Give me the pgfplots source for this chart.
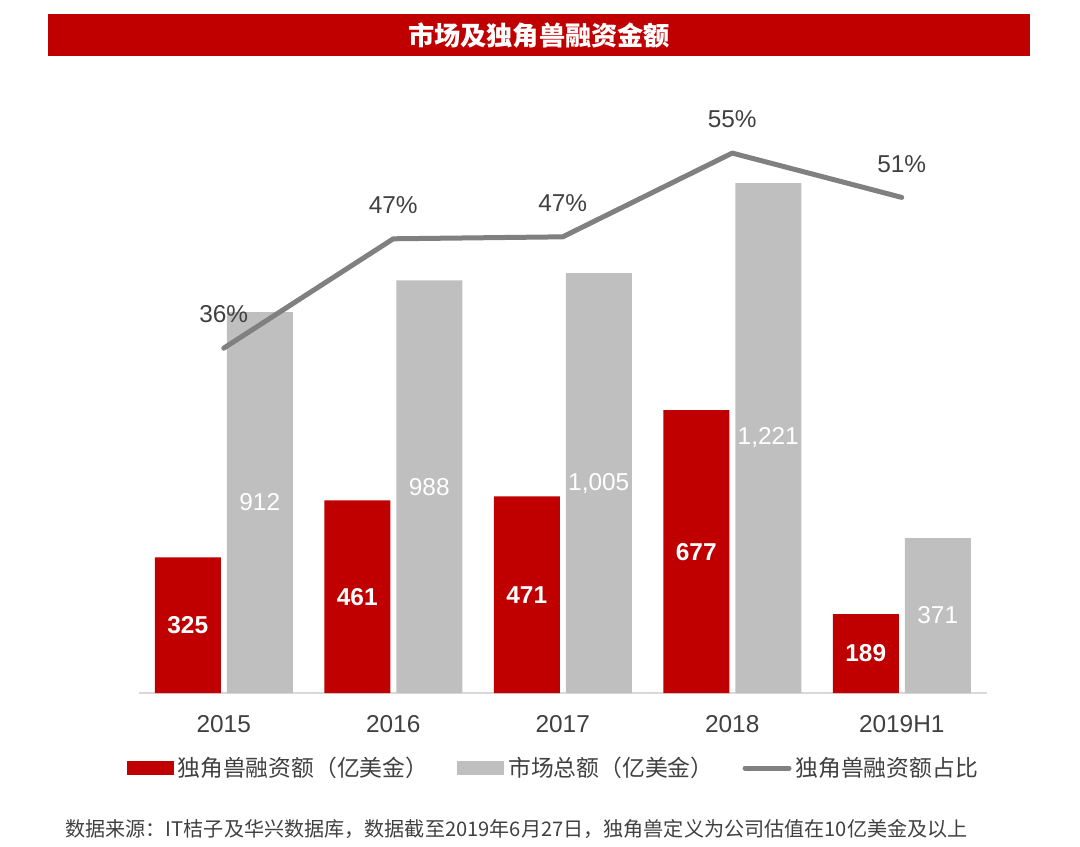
\documentclass[border=0pt]{standalone}
\usepackage{pgfplots}
\pgfplotsset{compat=1.18}
\usepackage{fontspec}
\setmainfont{Liberation Sans}
\newfontfamily\cjk{Noto Sans CJK SC}
\definecolor{cred}{HTML}{C00000}
\definecolor{cgray}{HTML}{BFBFBF}
\definecolor{cline}{HTML}{808080}
\definecolor{ctext}{HTML}{404040}
\definecolor{caxis}{HTML}{D9D9D9}

\begin{document}
\begin{tikzpicture}
\path[use as bounding box] (0,0) rectangle (540pt,423pt);
\fill[cred] (24pt,395pt) rectangle (515pt,416pt);
\node[text=white,font=\cjk\bfseries\fontsize{13.1}{15}\selectfont] at (269.5pt,405.5pt) {市场及独角兽融资金额};
\node[anchor=west,text=ctext,font=\cjk\fontsize{10.05}{11}\selectfont,inner sep=0pt] at (32.5pt,8.5pt) {数据来源：IT桔子及华兴数据库，数据截至2019年6月27日，独角兽定义为公司估值在10亿美金及以上};

\begin{axis}[
  at={(69.5pt,76.5pt)}, anchor=south west,
  scale only axis, width=423.75pt, height=300pt,
  xmin=-0.5, xmax=4.5, ymin=0, ymax=1436.5,
  xtick={0,1,2,3,4}, xticklabels={2015,2016,2017,2018,2019H1},
  axis x line=bottom, axis y line=none,
  x axis line style={-, draw=caxis, line width=0.6pt},
  xtick style={draw=none},
  xticklabel style={font=\fontsize{12.2}{14}\selectfont, text=ctext, yshift=-5.5pt},
  /pgf/number format/assume math mode=true,
  visualization depends on={y \as \rawy},
  legend style={at={(0.490,-0.125)}, anchor=center, draw=none, fill=none,
    font=\cjk\fontsize{11.4}{13}\selectfont, text=ctext,
    /tikz/every even column/.append style={column sep=12.5pt}},
  legend columns=3,
  legend cell align=left,
]
\addplot[ybar, bar width=33pt, bar shift=-18pt, fill=cred, draw=none,
  nodes near coords,
  every node near coord/.append style={anchor=center, text=white, xshift=-18pt,
    font=\bfseries\fontsize{12.2}{14}\selectfont,
    shift={(axis direction cs:0,-\rawy/2)}},
  legend image code/.code={\fill[cred] (0pt,-3.5pt) rectangle (23.5pt,3.5pt);}]
  coordinates {(0,325) (1,461) (2,471) (3,677) (4,189)};
\addlegendentry{独角兽融资额（亿美金）}
\addplot[ybar, bar width=33pt, bar shift=18pt, fill=cgray, draw=none,
  nodes near coords,
  every node near coord/.append style={anchor=center, text=white, xshift=18pt,
    font=\fontsize{12.2}{14}\selectfont,
    shift={(axis direction cs:0,-\rawy/2)}},
  legend image code/.code={\fill[cgray] (0pt,-3.5pt) rectangle (23.5pt,3.5pt);}]
  coordinates {(0,912) (1,988) (2,1005) (3,1221) (4,371)};
\addlegendentry{市场总额（亿美金）}
\addlegendimage{legend image code/.code={\draw[cline, line width=2.5pt, line cap=round] (0pt,0pt) -- (22pt,0pt);}}
\addlegendentry{独角兽融资额占比}
\end{axis}

\begin{axis}[
  at={(69.5pt,76.5pt)}, anchor=south west,
  scale only axis, width=423.75pt, height=300pt,
  xmin=-0.5, xmax=4.5, ymin=0.6, ymax=61.5,
  hide axis,
  /pgf/number format/assume math mode=true,
]
\addplot[cline, line width=2.5pt, line cap=round, line join=round,
  nodes near coords={\pgfmathprintnumber[fixed,precision=0]{\pgfplotspointmeta}\%},
  every node near coord/.append style={anchor=south, yshift=8pt, text=ctext,
    font=\fontsize{12.2}{14}\selectfont}]
  coordinates {(0,35.6) (1,46.7) (2,46.9) (3,55.4) (4,50.9)};
\end{axis}
\end{tikzpicture}
\end{document}
